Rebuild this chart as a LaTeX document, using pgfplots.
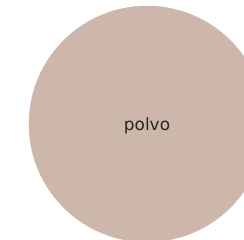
\documentclass[border=0pt]{standalone}
\usepackage{pgfplots}
\pgfplotsset{compat=1.18}
\usepackage{fontspec}
\setmainfont{DejaVu Sans}
\definecolor{piecol}{RGB}{205,183,170}
\begin{document}
\begin{tikzpicture}
\clip (0,0) rectangle (244bp,240bp);
\begin{axis}[
  at={(0,0)}, anchor=south west,
  width=244bp, height=240bp, scale only axis,
  hide axis,
  xmin=0, xmax=244, ymin=0, ymax=240,
]
% one slice covering 100% (value 1) drawn as a full disc
\addplot[only marks, mark=*, mark size=118bp, color=piecol,
  mark options={fill=piecol, draw=piecol}] coordinates {(147,116)};
\coordinate (lab) at (axis cs:147,114);
\end{axis}
\node[font=\fontsize{17}{20}\selectfont, text=black!85] at (lab) {polvo};
\end{tikzpicture}
\end{document}
